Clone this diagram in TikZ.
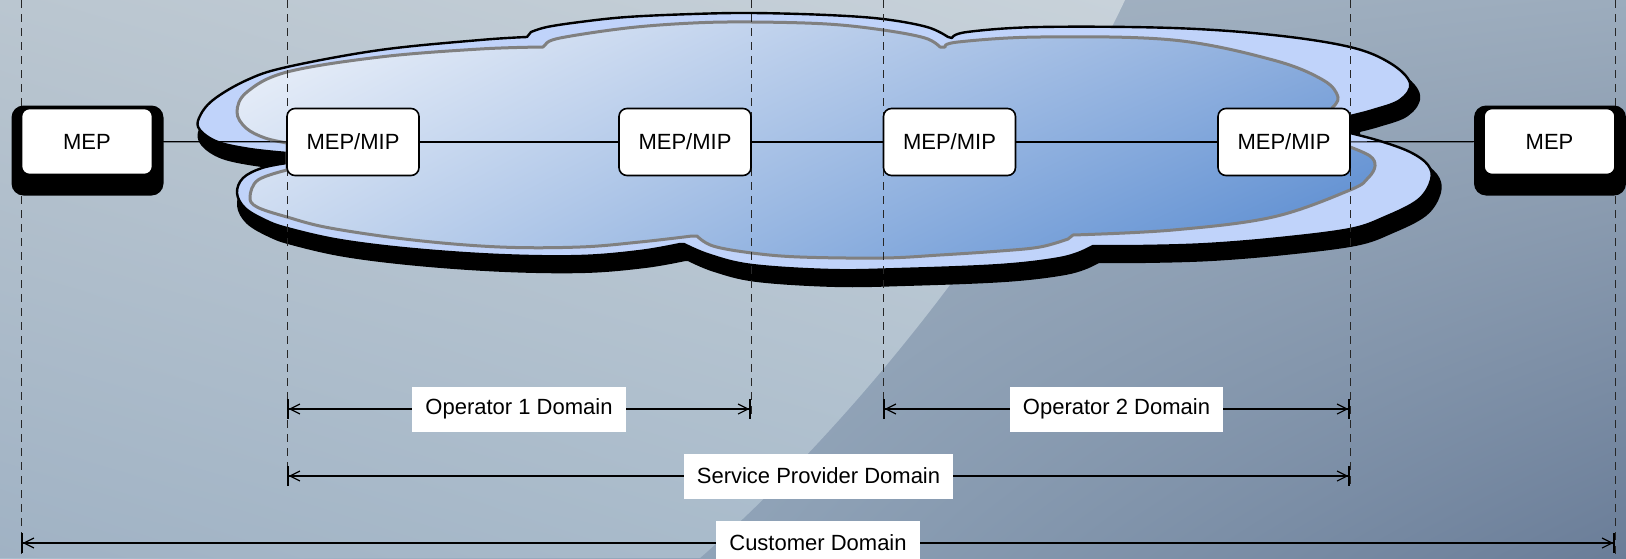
\documentclass[tikz,border=0pt]{standalone}
\usepackage{fontspec}
\setmainfont{Liberation Sans}
\usetikzlibrary{arrows.meta,calc,shadings}
\definecolor{cloudout}{RGB}{192,211,250}
\definecolor{cloudedge}{RGB}{128,128,128}
\definecolor{bgRUL}{RGB}{168,183,198}
\definecolor{bgRUR}{RGB}{156,172,189}
\definecolor{bgRLL}{RGB}{172,192,208}
\definecolor{bgRLR}{RGB}{106,125,152}
\definecolor{bgLUL}{RGB}{186,198,208}
\definecolor{bgLUR}{RGB}{200,210,218}
\definecolor{bgLLL}{RGB}{160,178,196}
\definecolor{bgLLR}{RGB}{173,191,206}
\definecolor{cinUL}{RGB}{240,244,251}
\definecolor{cinUR}{RGB}{140,173,221}
\definecolor{cinLL}{RGB}{200,216,239}
\definecolor{cinLR}{RGB}{84,136,207}
\tikzset{
  mepbox/.style={draw=black, line width=0.8pt, fill=white, rounded corners=4pt,
    minimum width=65.5pt, minimum height=33pt, inner sep=0pt},
  mipbox/.style={draw=black, line width=0.8pt, fill=white, rounded corners=4pt,
    minimum width=66pt, minimum height=33.5pt, inner sep=0pt},
  boxshadow/.style={fill=black, rounded corners=6pt},
  lbl/.style={fill=white, inner xsep=6.5pt, inner ysep=0pt, minimum height=22.5pt},
  conn/.style={draw=black, line width=0.6pt},
  dashline/.style={draw=black!85, line width=0.4pt, dash pattern=on 4pt off 3pt},
  dimline/.style={draw=black, line width=0.6pt,
    {Bar[width=10pt,line width=0.8pt]Straight Barb[length=5pt,width=5pt]}-{Straight Barb[length=5pt,width=5pt]Bar[width=10pt,line width=0.8pt]}},
  outercloud/.style={insert path={
    plot[smooth,tension=0.6] coordinates {(287,153) (250,149) (218,142) (200,130) (199,118) (213,100) (247,80) (287,67) (380,50) (480,40) (527,37)}
    -- plot[smooth,tension=0.6] coordinates {(531,32) (547,27) (580,22) (627,17) (693,14) (752,13) (827,15) (883,19) (927,27) (948,37)}
    -- plot[smooth,tension=0.6] coordinates {(952,38) (967,32) (1040,27) (1173,28) (1273,35) (1350,47) (1390,63) (1410,83) (1400,100) (1373,110) (1350,116)}
    -- plot[smooth,tension=0.6] coordinates {(1350,133) (1380,141) (1410,152) (1428,165) (1431,180) (1418,200) (1385,217) (1350,229) (1280,238) (1207,244) (1140,246) (1093,246)}
    -- plot[smooth,tension=0.6] coordinates {(1085,250) (1060,258) (1000,265) (900,269) (830,270) (752,265) (710,255) (684,244)}
    -- plot[smooth,tension=0.6] coordinates {(680,244) (640,251) (580,256) (500,255) (413,249) (340,240) (287,228) (265,220) (245,208) (237,193) (243,178) (262,168) (287,163)}
    -- cycle}},
  innercloud/.style={insert path={
    plot[smooth,tension=0.6] coordinates {(287,143) (265,138) (246,128) (237,112) (247,92) (287,72) (380,57) (480,49) (543,47)}
    -- plot[smooth,tension=0.6] coordinates {(546,44) (560,38) (627,28) (693,23) (752,22) (827,24) (883,30) (925,38) (940,47)}
    -- plot[smooth,tension=0.6] coordinates {(945,47) (958,42) (1040,37) (1173,40) (1273,60) (1323,80) (1338,97) (1332,108)}
    -- plot[smooth,tension=0.6] coordinates {(1350,147) (1370,156) (1375,166) (1368,178) (1350,190) (1273,217) (1173,230) (1073,235)}
    -- plot[smooth,tension=0.6] coordinates {(1068,239) (1040,247) (1000,251) (940,255) (883,258) (800,257) (752,253) (713,246) (697,236)}
    -- plot[smooth,tension=0.6] coordinates {(692,236) (640,242) (580,247) (500,247) (413,240) (330,228) (287,217) (257,207) (250,197) (258,180) (287,170)}
    -- cycle}},
}
\begin{document}
\begin{tikzpicture}[x=0.5pt,y=-0.5pt,font=\fontsize{11pt}{13pt}\selectfont]
\useasboundingbox (0,0) rectangle (1626,558);
\clip (0,0) rectangle (1626,558);
% background
\shade[upper left=bgRUL, upper right=bgRUR, lower left=bgRLL, lower right=bgRLR] (0,0) rectangle (1626,558);
\shade[upper left=bgLUL, upper right=bgLUR, lower left=bgLLL, lower right=bgLLR]
  (0,0) -- (1125,0) .. controls (1040,180) and (880,400) .. (700,558) -- (0,558) -- cycle;
% cloud
\begin{scope}[shift={(5,12)}]
  \path[fill=black, draw=black, line width=5pt, line join=round, outercloud];
\end{scope}
\path[fill=cloudout, draw=black, line width=1.2pt, line join=round, outercloud];
\shadedraw[draw=cloudedge, line width=1.5pt, line join=round,
  upper left=cinUL, upper right=cinUR, lower left=cinLL, lower right=cinLR, innercloud];
% dashed guide lines
\coordinate (g1t) at (21,0);    \coordinate (g1b) at (21,558);
\coordinate (g2t) at (287,0);   \coordinate (g2b) at (287,485);
\coordinate (g3t) at (751,0);   \coordinate (g3b) at (751,418);
\coordinate (g4t) at (883,0);   \coordinate (g4b) at (883,418);
\coordinate (g5t) at (1350,0);  \coordinate (g5b) at (1350,485);
\coordinate (g6t) at (1615,0);  \coordinate (g6b) at (1615,558);
\foreach \i in {1,...,6} {\draw[dashline] (g\i t) -- (g\i b);}
% box shadows
\coordinate (cL) at (87,141.5);
\coordinate (cR) at (1549.5,141.5);
\fill[boxshadow] ($(cL)+(-75.5,-36)$) rectangle ($(cL)+(76.5,54)$);
\fill[boxshadow] ($(cR)+(-75.5,-36)$) rectangle ($(cR)+(76.5,54)$);
% boxes
\node[mepbox] (mepL) at (cL) {MEP};
\node[mipbox] (mm1) at (353,142) {MEP/MIP};
\node[mipbox] (mm2) at (685,142) {MEP/MIP};
\node[mipbox] (mm3) at (949.5,142) {MEP/MIP};
\node[mipbox] (mm4) at (1284,142) {MEP/MIP};
\node[mepbox] (mepR) at (cR) {MEP};
\draw[conn] (mepL) -- (mm1);
\draw[conn] (mm1) -- (mm2);
\draw[conn] (mm2) -- (mm3);
\draw[conn] (mm3) -- (mm4);
\draw[conn] (mm4) -- (mepR);
% domain dimension lines
\coordinate (o1a) at (287,409);  \coordinate (o1b) at (751,409);
\coordinate (o2a) at (883,409);  \coordinate (o2b) at (1350,409);
\coordinate (spa) at (287,476);  \coordinate (spb) at (1350,476);
\coordinate (cda) at (21,543);   \coordinate (cdb) at (1615,543);
\draw[dimline] (o1a) -- node[lbl] (l1) {Operator 1 Domain} (o1b);
\draw[dimline] (o2a) -- node[lbl] (l2) {Operator 2 Domain} (o2b);
\draw[dimline] (spa) -- node[lbl] (l3) {Service Provider Domain} (spb);
\draw[dimline] (cda) -- node[lbl] (l4) {Customer Domain} (cdb);
\end{tikzpicture}
\end{document}
